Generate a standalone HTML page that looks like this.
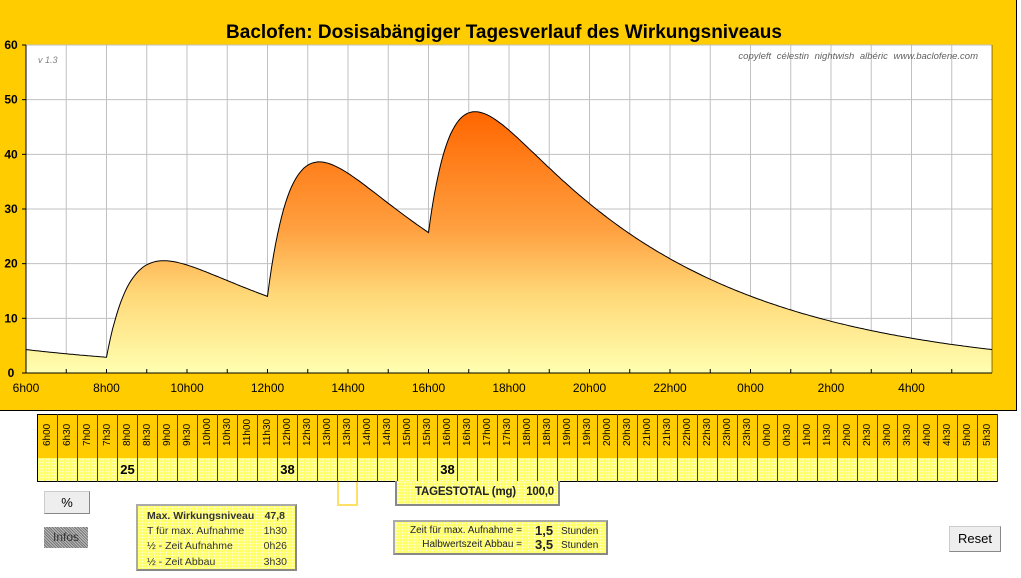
<!DOCTYPE html>
<html><head><meta charset="utf-8"><style>
body{margin:0;width:1021px;height:578px;background:#fff;position:relative;overflow:hidden;font-family:"Liberation Sans",Arial,sans-serif}
.abs{position:absolute}
.dot{background-color:#ffff66;background-image:radial-gradient(#fffde0 35%,transparent 40%);background-size:3px 3px}
table{border-collapse:collapse}
</style></head><body>
<div class="abs" style="left:0;top:0;width:1016px;height:410px;background:#ffcc00;border-right:1px solid #000;border-bottom:1px solid #000"></div>
<svg class="abs" style="left:0;top:0" width="1021" height="412" id="ch">
<defs><linearGradient id="g" gradientUnits="userSpaceOnUse" x1="0" y1="112" x2="0" y2="373">
<stop offset="0" stop-color="#ff6600"/><stop offset="0.45" stop-color="#ffa040"/><stop offset="0.7" stop-color="#ffd878"/><stop offset="1" stop-color="#ffffb0"/></linearGradient></defs>
<rect x="26" y="45" width="966" height="328" fill="#fff"/>
<g id="grid" stroke="#c0c0c0" stroke-width="1"></g>
<path id="area" fill="url(#g)" stroke="none"/>
<path id="line" fill="none" stroke="#000" stroke-width="1"/>
<line x1="26" y1="45" x2="26" y2="373" stroke="#000"/>
<line x1="26" y1="373" x2="992" y2="373" stroke="#000"/>
<line x1="992" y1="45" x2="992" y2="373" stroke="#000" stroke-width="0.5"/>
<g id="ticks" stroke="#000"></g>
<text x="504" y="38" text-anchor="middle" font-size="19" font-weight="bold" font-family="Liberation Sans">Baclofen: Dosisabängiger Tagesverlauf des Wirkungsniveaus</text>
<text x="38" y="63" font-size="9" font-style="italic" fill="#808080">v 1.3</text>
<text x="978" y="59" text-anchor="end" font-size="9.5" font-style="italic" fill="#606060" word-spacing="3">copyleft  célestin  nightwish  albéric  www.baclofene.com</text>
<g id="lbl" font-size="12" font-weight="bold"></g>
</svg>
<table class="abs" style="left:37px;top:414px;border:1.5px solid #000">
<tr id="hr" style="height:43px;background:#ffcc00"></tr>
<tr id="dr" style="height:24px"></tr>
</table>
<div class="abs" style="left:44px;top:491px;width:44px;height:21px;background:#eee;border:1px solid #ccc;border-right-color:#888;border-bottom-color:#888;font-size:13px;text-align:center;line-height:21px">%</div>
<div class="abs" style="left:44px;top:527px;width:44px;height:21px;background:repeating-linear-gradient(45deg,#777 0 1px,#bbb 1px 2px);font-size:12px;text-align:center;line-height:21px;color:#333">Infos</div>
<div class="abs dot" style="left:136px;top:504px;width:157px;height:63px;border:2px solid #aaa;border-right-color:#888;border-bottom-color:#888;font-size:10.5px;color:#333">
<div style="position:absolute;left:9px;top:4px;font-weight:bold">Max. Wirkungsniveau</div><div style="position:absolute;right:10px;top:4px;font-weight:bold">47,8</div>
<div style="position:absolute;left:9px;top:19px">T für max. Aufnahme</div><div style="position:absolute;right:8px;top:19px">1h30</div>
<div style="position:absolute;left:9px;top:34px">½ - Zeit Aufnahme</div><div style="position:absolute;right:8px;top:34px">0h26</div>
<div style="position:absolute;left:9px;top:50px">½ - Zeit Abbau</div><div style="position:absolute;right:8px;top:50px">3h30</div></div>
<div class="abs" style="left:337px;top:482px;width:17px;height:22px;border:2px solid #ffe066;border-top:none"></div>
<div class="abs dot" style="left:395px;top:481px;width:161px;height:23px;border:2px solid #888;border-top:none;font-size:11.5px;font-weight:bold;color:#222;line-height:22px;letter-spacing:-0.2px">
<span style="position:absolute;left:18px">TAGESTOTAL (mg)</span><span style="position:absolute;right:4px">100,0</span></div>
<div class="abs dot" style="left:393px;top:520px;width:211px;height:31px;border:2px solid #aaa;border-right-color:#888;border-bottom-color:#888;font-size:10px;color:#222">
<span style="position:absolute;right:84px;top:3px;white-space:nowrap">Zeit für max. Aufnahme =</span><b style="position:absolute;left:140px;top:1px;font-size:13px">1,5</b><span style="position:absolute;left:166px;top:4px">Stunden</span>
<span style="position:absolute;right:84px;top:17px;white-space:nowrap">Halbwertszeit Abbau =</span><b style="position:absolute;left:140px;top:15px;font-size:13px">3,5</b><span style="position:absolute;left:166px;top:18px">Stunden</span></div>
<div class="abs" style="left:949px;top:526px;width:50px;height:24px;background:#eee;border:1px solid #ccc;border-right-color:#888;border-bottom-color:#888;font-size:13px;line-height:24px;text-align:center;overflow:hidden">Reset</div>
<script>
var NS="http://www.w3.org/2000/svg";
function el(p,t,a,txt){var e=document.createElementNS(NS,t);for(var k in a)e.setAttribute(k,a[k]);if(txt!=null)e.textContent=txt;p.appendChild(e);return e}
var X0=26,W=966,Y0=373,H=328,px=W/24;
var grid=document.getElementById('grid'),ticks=document.getElementById('ticks'),lbl=document.getElementById('lbl');
for(var i=1;i<24;i++){var x=X0+i*px;el(grid,'line',{x1:x,y1:45,x2:x,y2:373});el(ticks,'line',{x1:x,y1:373,x2:x,y2:369})}
for(var v=10;v<=60;v+=10){var y=Y0-v*H/60;el(grid,'line',{x1:26,y1:y,x2:992,y2:y});}
for(var v=0;v<=60;v+=10){var y=Y0-v*H/60;el(ticks,'line',{x1:22,y1:y,x2:26,y2:y});el(lbl,'text',{x:11,y:y+4,'text-anchor':'middle'},String(v))}
for(var i=0;i<24;i+=2){var h=(6+i)%24;el(lbl,'text',{x:X0+i*px,y:392,'text-anchor':'middle','font-weight':'normal'},h+'h00')}
var ka=Math.LN2/(26/60),ke=Math.LN2/3.5,doses=[[2,25],[6,38],[10,38]];
function C(t){var s=0;doses.forEach(function(d){for(var k=0;k<3;k++){var dt=t-d[0]+24*k;if(dt>=0)s+=d[1]*(Math.exp(-ke*dt)-Math.exp(-ka*dt))}});return s}
var pts=[],mx=0;for(var t=0;t<=24.001;t+=0.05){var c=C(t);pts.push([t,c]);if(c>mx)mx=c}
var A=47.8/mx,d='';pts.forEach(function(p,i){d+=(i?'L':'M')+(X0+p[0]*px).toFixed(1)+','+(Y0-p[1]*A*H/60).toFixed(1)});
document.getElementById('line').setAttribute('d',d);
document.getElementById('area').setAttribute('d',d+'L992,373L26,373Z');
var hr=document.getElementById('hr'),dr=document.getElementById('dr');
for(var i=0;i<48;i++){var m=6*60+i*30,h=Math.floor(m/60)%24,mm=m%60?'30':'00';
var td=document.createElement('td');td.style.cssText='width:19px;padding:0;border-right:1px solid #cc0000;text-align:center;vertical-align:middle';
td.innerHTML='<div style="transform:rotate(-90deg);font-size:10px;white-space:nowrap;width:19px">'+h+'h'+mm+'</div>';hr.appendChild(td);
var td2=document.createElement('td');td2.className='dot';td2.style.cssText='width:19px;padding:0;border-right:1px solid #cc0000;font-size:13px;font-weight:bold;text-align:center';
td2.textContent=(i==4?'25':(i==12||i==20)?'38':'');dr.appendChild(td2)}
</script>
</body></html>
